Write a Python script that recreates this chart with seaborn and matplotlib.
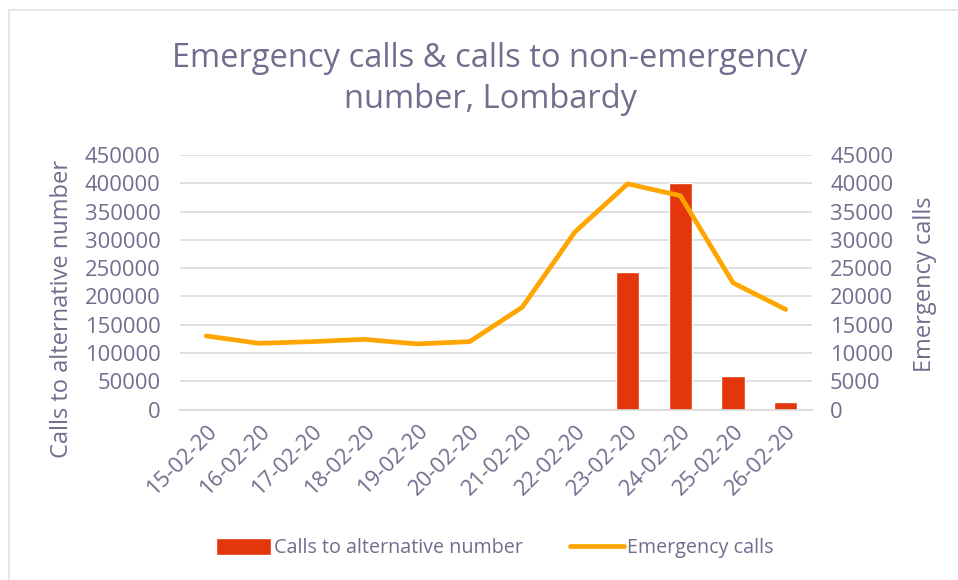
import numpy as np
import pandas as pd
import matplotlib
matplotlib.use("Agg")
import matplotlib.pyplot as plt
import seaborn as sns

# data
dates = ["15-02-20", "16-02-20", "17-02-20", "18-02-20", "19-02-20", "20-02-20",
         "21-02-20", "22-02-20", "23-02-20", "24-02-20", "25-02-20", "26-02-20"]
alt_calls = [0, 0, 0, 0, 0, 0, 0, 0, 243000, 400000, 59000, 13000]
emergency_calls = [13000, 11700, 12000, 12400, 11600, 12000,
                   18100, 31400, 39900, 37800, 22400, 17700]

df = pd.DataFrame({"date": dates, "alt": alt_calls, "emergency": emergency_calls})

text_col = "#6f6e8e"
grid_col = "#d9d9d9"
bar_col = "#e3360a"
line_col = "#ffa500"

sns.set_style("white")
plt.rcParams["font.family"] = ["Open Sans", "DejaVu Sans"]
plt.rcParams["text.color"] = text_col

fig = plt.figure(figsize=(9.58, 5.8), dpi=100)
ax = fig.add_axes([180 / 958, 1 - 409.5 / 580, 632 / 958, 254.5 / 580])

sns.barplot(data=df, x="date", y="alt", color=bar_col, width=0.44,
            saturation=1, ax=ax, label="Calls to alternative number")
ax2 = ax.twinx()
sns.lineplot(data=df, x="date", y="emergency", color=line_col, linewidth=3.4,
             sort=False, ax=ax2, label="Emergency calls")

ax.set_ylim(0, 450000)
ax2.set_ylim(0, 45000)
ax.set_yticks(np.arange(0, 450001, 50000))
ax2.set_yticks(np.arange(0, 45001, 5000))
ax.set_xlim(-0.5, len(dates) - 0.5)

ax.grid(axis="y", color=grid_col, linewidth=1.2)
ax.set_axisbelow(True)
for a in (ax, ax2):
    for s in a.spines.values():
        s.set_visible(False)
ax.spines["bottom"].set_visible(True)
ax.spines["bottom"].set_color(grid_col)
ax.spines["bottom"].set_linewidth(1.2)

tick_fs = 15.8
ax.set_xticks(np.arange(-0.5, len(dates)), minor=True)
ax.tick_params(axis="x", which="minor", length=6, color=grid_col, width=1.2)
ax.tick_params(axis="x", which="major", length=0, pad=8)
ax.tick_params(axis="y", length=0, labelsize=tick_fs, labelcolor=text_col, pad=14)
ax2.tick_params(axis="y", length=0, labelsize=tick_fs, labelcolor=text_col, pad=13)
plt.setp(ax.get_xticklabels(), rotation=45, ha="right", va="top",
         rotation_mode="anchor", fontsize=tick_fs, color=text_col)

ax.set_xlabel("")
ax.set_ylabel("")
ax2.set_ylabel("")

fig.text(62 / 958, 1 - 309 / 580, "Calls to alternative number", rotation=90,
         ha="center", va="center", fontsize=17, color=text_col)
fig.text(925 / 958, 1 - 284 / 580, "Emergency calls", rotation=90,
         ha="center", va="center", fontsize=17, color=text_col)

fig.text(490 / 958, 1 - 79 / 580, "Emergency calls & calls to non-emergency\nnumber, Lombardy",
         ha="center", va="center", fontsize=23.5, color=text_col, linespacing=1.35)

h1, l1 = ax.get_legend_handles_labels()
h2, l2 = ax2.get_legend_handles_labels()
if ax.get_legend():
    ax.get_legend().remove()
if ax2.get_legend():
    ax2.get_legend().remove()
fig.legend(h1 + h2, l1 + l2, loc="center", bbox_to_anchor=(495 / 958, 1 - 548 / 580),
           ncol=2, frameon=False, fontsize=14.2, handlelength=2.75, handleheight=0.95,
           handletextpad=0.15, columnspacing=2.4, labelcolor=text_col)

# chart frame edges
fig.add_artist(plt.Line2D([9 / 958, 1], [1 - 10 / 580, 1 - 10 / 580], color="#e3e3e8", lw=1.2))
fig.add_artist(plt.Line2D([9 / 958, 9 / 958], [0, 1 - 10 / 580], color="#e3e3e8", lw=1.2))

fig.savefig("out.png", dpi=100, facecolor="white")
